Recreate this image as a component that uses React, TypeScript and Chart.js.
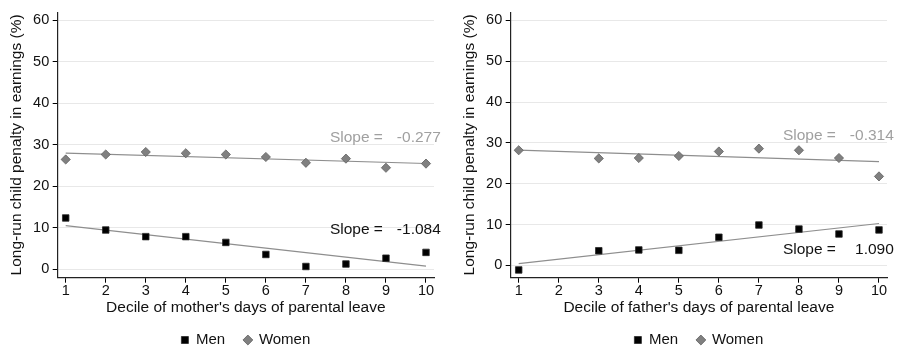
import React, { useEffect, useRef } from "react";
import { Chart, registerables } from "chart.js";

Chart.register(...registerables);

const FONT = '"Liberation Sans", Arial, Helvetica, sans-serif';

// Deciles on the horizontal axis and ticks on the vertical axis
const deciles = [1, 2, 3, 4, 5, 6, 7, 8, 9, 10];
const yTicks = [0, 10, 20, 30, 40, 50, 60];

// Left panel: by decile of mother's days of parental leave
const motherDeciles = [1, 2, 3, 4, 5, 6, 7, 8, 9, 10];
const motherMen = [12.4, 9.5, 7.9, 7.9, 6.5, 3.6, 0.7, 1.3, 2.7, 4.1];
const motherWomen = [26.5, 27.7, 28.3, 28.0, 27.7, 27.1, 25.7, 26.7, 24.5, 25.5];
const motherSlopes = [-1.084, -0.277]; // men, women

// Right panel: by decile of father's days of parental leave (no decile 2)
const fatherDeciles = [1, 3, 4, 5, 6, 7, 8, 9, 10];
const fatherMen = [-1.1, 3.6, 3.8, 3.7, 6.9, 9.9, 8.9, 7.7, 8.7];
const fatherWomen = [28.2, 26.2, 26.3, 26.8, 27.9, 28.6, 28.2, 26.3, 21.8];
const fatherSlopes = [1.09, -0.314]; // men, women

const seriesNames = ["Men", "Women"];
const yTitle = "Long-run child penalty in earnings (%)";

// Straight fit line through the sample mean with the reported slope
function fitLine(xs: number[], ys: number[], slope: number) {
  const mx = xs.reduce((a, b) => a + b, 0) / xs.length;
  const my = ys.reduce((a, b) => a + b, 0) / ys.length;
  const x0 = xs[0];
  const x1 = xs[xs.length - 1];
  return [
    { x: x0, y: my + slope * (x0 - mx) },
    { x: x1, y: my + slope * (x1 - mx) },
  ];
}

// Draws the "Slope =  value" annotations next to each fit line
const slopeLabelPlugin = {
  id: "slopeLabels",
  afterDatasetsDraw(chart: any, _args: any, opts: any) {
    const { ctx, scales } = chart;
    const xs = scales.x;
    const ys = scales.y;
    ctx.save();
    ctx.font = `15.5px ${FONT}`;
    ctx.textBaseline = "middle";
    for (const item of opts.items) {
      const py = ys.getPixelForValue(item.at);
      ctx.fillStyle = item.color;
      ctx.textAlign = "left";
      ctx.fillText("Slope =", xs.getPixelForValue(opts.textStart), py);
      ctx.textAlign = "right";
      ctx.fillText(item.slope.toFixed(3), xs.getPixelForValue(opts.textEnd), py);
    }
    ctx.restore();
  },
};

type PanelProps = {
  xs: number[];
  men: number[];
  women: number[];
  slopes: number[];
  yMin: number;
  xTitle: string;
  labelAt: number[]; // vertical positions (data units) of men / women slope texts
  left: number;
};

function Panel({ xs, men, women, slopes, yMin, xTitle, labelAt, left }: PanelProps) {
  const ref = useRef<HTMLCanvasElement>(null);

  useEffect(() => {
    if (!ref.current) return;
    const menPts = xs.map((x, i) => ({ x, y: men[i] }));
    const womenPts = xs.map((x, i) => ({ x, y: women[i] }));

    const chart = new Chart(ref.current, {
      type: "scatter",
      data: {
        datasets: [
          {
            label: seriesNames[0],
            data: menPts,
            pointStyle: "rect",
            pointRadius: 4.6,
            backgroundColor: "#000000",
            borderColor: "#2a2a2a",
            borderWidth: 0.8,
            order: 1,
          },
          {
            label: seriesNames[1],
            data: womenPts,
            pointStyle: "rectRot",
            pointRadius: 4.6,
            backgroundColor: "#808080",
            borderColor: "#5e5e5e",
            borderWidth: 0.8,
            order: 1,
          },
          {
            label: "fit men",
            data: fitLine(xs, men, slopes[0]),
            showLine: true,
            pointRadius: 0,
            borderColor: "#8e8e8e",
            borderWidth: 1.2,
            order: 2,
          },
          {
            label: "fit women",
            data: fitLine(xs, women, slopes[1]),
            showLine: true,
            pointRadius: 0,
            borderColor: "#8e8e8e",
            borderWidth: 1.2,
            order: 2,
          },
        ],
      },
      options: {
        responsive: false,
        animation: false,
        events: [],
        layout: { padding: { top: 6, right: 16, bottom: -6.5, left: 0 } },
        scales: {
          x: {
            type: "linear",
            min: 0.8,
            max: 10.2,
            afterBuildTicks: (s: any) => {
              s.ticks = deciles.map((v) => ({ value: v }));
            },
            afterFit: (s: any) => {
              s.height = 35.5;
            },
            grid: {
              drawOnChartArea: false,
              tickLength: 5,
              tickColor: "#000000",
              tickWidth: 1,
            },
            border: { color: "#222222", width: 1.2 },
            ticks: {
              color: "#111111",
              font: { family: FONT, size: 14.5 },
              padding: -0.5,
              maxRotation: 0,
              autoSkip: false,
            },
            title: {
              display: true,
              text: xTitle,
              color: "#111111",
              font: { family: FONT, size: 15.5 },
              padding: { top: 0, bottom: -4.1 },
            },
          },
          y: {
            type: "linear",
            min: yMin,
            max: 62,
            afterBuildTicks: (s: any) => {
              s.ticks = yTicks.map((v) => ({ value: v }));
            },
            afterFit: (s: any) => {
              s.width = 57.7;
            },
            grid: {
              color: "#e8e8e8",
              lineWidth: 1,
              tickLength: 5,
              tickColor: "#000000",
              tickWidth: 1,
            },
            border: { color: "#222222", width: 1.2 },
            ticks: {
              color: "#111111",
              font: { family: FONT, size: 14.5 },
              padding: 3.5,
            },
            title: {
              display: true,
              text: yTitle,
              color: "#111111",
              font: { family: FONT, size: 15.5 },
              padding: { top: 7.7, bottom: 0 },
            },
          },
        },
        plugins: {
          legend: {
            position: "bottom",
            fullSize: false,
            labels: {
              usePointStyle: true,
              boxWidth: 7,
              boxHeight: 7,
              padding: 19.3,
              color: "#111111",
              font: { family: FONT, size: 15 },
              filter: (item: any) => item.datasetIndex < 2,
            },
          },
          tooltip: { enabled: false },
          slopeLabels: {
            textStart: 7.6,
            textEnd: 10.37,
            items: [
              { slope: slopes[0], at: labelAt[0], color: "#111111" },
              { slope: slopes[1], at: labelAt[1], color: "#a0a0a0" },
            ],
          },
        } as any,
      },
      plugins: [slopeLabelPlugin],
    } as any);

    return () => chart.destroy();
  }, []);

  return (
    <canvas
      ref={ref}
      width={450}
      height={351}
      style={{ position: "absolute", left, top: 0, width: 450, height: 351 }}
    />
  );
}

export default function App() {
  useEffect(() => {
    document.body.style.margin = "0";
  }, []);
  return (
    <div
      style={{
        position: "absolute",
        left: 0,
        top: 0,
        width: 900,
        height: 351,
        overflow: "hidden",
        background: "#ffffff",
      }}
    >
      <Panel
        xs={motherDeciles}
        men={motherMen}
        women={motherWomen}
        slopes={motherSlopes}
        yMin={-2}
        xTitle="Decile of mother's days of parental leave"
        labelAt={[9.5, 31.7]}
        left={0}
      />
      <Panel
        xs={fatherDeciles}
        men={fatherMen}
        women={fatherWomen}
        slopes={fatherSlopes}
        yMin={-3}
        xTitle="Decile of father's days of parental leave"
        labelAt={[3.9, 31.8]}
        left={453}
      />
    </div>
  );
}
